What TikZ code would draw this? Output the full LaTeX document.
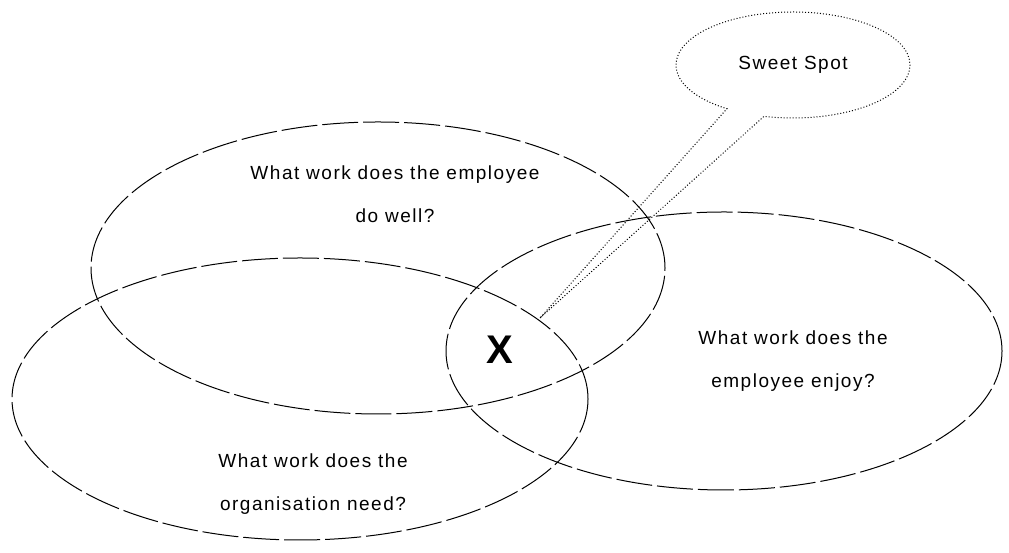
\documentclass[tikz,border=0pt]{standalone}
\usepackage{fontspec}
\setmainfont{Liberation Sans}
\usetikzlibrary{shapes.geometric,shapes.callouts}
\begin{document}
\begin{tikzpicture}[x=1pt,y=1pt,
  circle set/.style={draw, ellipse, line width=1pt, dash pattern=on 36pt off 5pt, inner sep=0pt},
  label text/.style={align=center, font=\addfontfeature{LetterSpace=8}\fontsize{19}{43}\selectfont},
  bubble/.style={draw, ellipse callout, dotted, line width=1pt, callout pointer arc=20, inner sep=0pt}]
  \useasboundingbox (0,0) rectangle (1009,553);
  % the three overlapping questions
  \node[circle set, minimum width=574pt, minimum height=292pt] (well) at (378,285) {};
  \node[circle set, minimum width=576pt, minimum height=282pt] (need) at (300,154) {};
  \node[circle set, minimum width=556pt, minimum height=278pt] (enjoy) at (724,202) {};
  \node[label text] (wellText) at (395,359) {What work does the employee\\do well?};
  \node[label text] (enjoyText) at (793,192) {What work does the\\employee enjoy?};
  \node[label text] (needText) at (313,69) {What work does the\\organisation need?};
  % the common region
  \node[font=\bfseries\fontsize{40}{40}\selectfont, inner sep=0pt] (spot) at (500,203) {X};
  \coordinate (tip) at (540,235);
  % callout naming the common region
  \node[bubble, minimum width=234pt, minimum height=106pt, callout absolute pointer={(tip)},
        font=\addfontfeature{LetterSpace=8}\fontsize{19}{22}\selectfont] (sweet) at (793,488) {Sweet Spot};
\end{tikzpicture}
\end{document}
